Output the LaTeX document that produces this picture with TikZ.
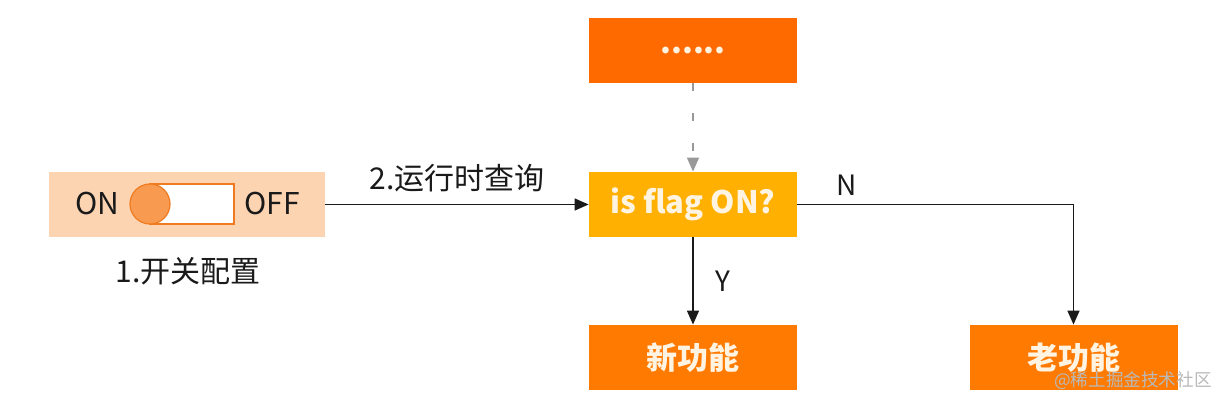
\documentclass[tikz,border=0pt]{standalone}
\usepackage{fontspec}
\setmainfont{Noto Sans CJK SC}
\usetikzlibrary{arrows.meta}
\definecolor{orgA}{HTML}{FF6A00}
\definecolor{orgB}{HTML}{FF7A00}
\definecolor{amber}{HTML}{FFB000}
\definecolor{peach}{HTML}{FDD4B2}
\definecolor{knob}{HTML}{F89A50}
\definecolor{rim}{HTML}{F07A20}
\definecolor{cream}{HTML}{FFF4E2}
\definecolor{ink}{HTML}{1A1A1A}
\tikzset{
  x=0.5pt,y=-0.5pt,
  fbox/.style={draw=none,minimum width=104pt,minimum height=32.5pt,inner sep=0pt,
     text=cream,font=\fontsize{15.5}{18}\selectfont\bfseries},
  lbl/.style={text=ink,font=\fontsize{14}{17}\selectfont,inner sep=0pt},
  conn/.style={draw=ink,line width=0.7pt,-{Triangle[length=7pt,width=6pt]}}
}
\begin{document}
\begin{tikzpicture}
\useasboundingbox (0,0) rectangle (1228,410);
\fill[white] (0,0) rectangle (1228,410);
% boxes
\node[fbox,fill=orgA] (top) at (693,50.5) {......};
\node[fbox,fill=amber] (flag) at (693,204.5) {is flag ON?};
\node[fbox,fill=orgB] (new) at (693,357.5) {新功能};
\node[fbox,fill=orgB] (old) at (1073.5,357.5) {老功能};
% switch
\node[fill=peach,minimum width=138pt,minimum height=32.5pt,inner sep=0pt] (sw) at (187,204.5) {};
\fill[white,draw=rim,line width=0.6pt] (150,184) rectangle (234,224);
\fill[knob,draw=rim,line width=0.6pt] (150,204) circle (10pt);
\node[lbl,font=\fontsize{15}{18}\selectfont] (on) at (97,204) {ON};
\node[lbl,font=\fontsize{15}{18}\selectfont] (off) at (272,204) {OFF};
\node[lbl,font=\fontsize{15}{18}\selectfont] (cfg) at (188,271) {1.开关配置};
% connectors
\draw[conn] (sw.east) -- node[lbl,font=\fontsize{15}{18}\selectfont,above=6pt] (q) {2.运行时查询} (flag.west);
\draw[conn,draw=gray!80,dash pattern=on 4pt off 11pt] (top.south) -- (flag.north);
\draw[conn] (flag.south) -- node[lbl,right=11pt] (y) {Y} (new.north);
\coordinate (bend) at (1073.5,204.5);
\draw[conn] (flag.east) -- (bend) -- (old.north);
\node[lbl] (n) at (847,185) {N};
% watermark
\node[text=gray!55,font=\fontsize{8.8}{11}\selectfont,inner sep=0pt] (wm) at (1133,381) {@稀土掘金技术社区};
\end{tikzpicture}
\end{document}
